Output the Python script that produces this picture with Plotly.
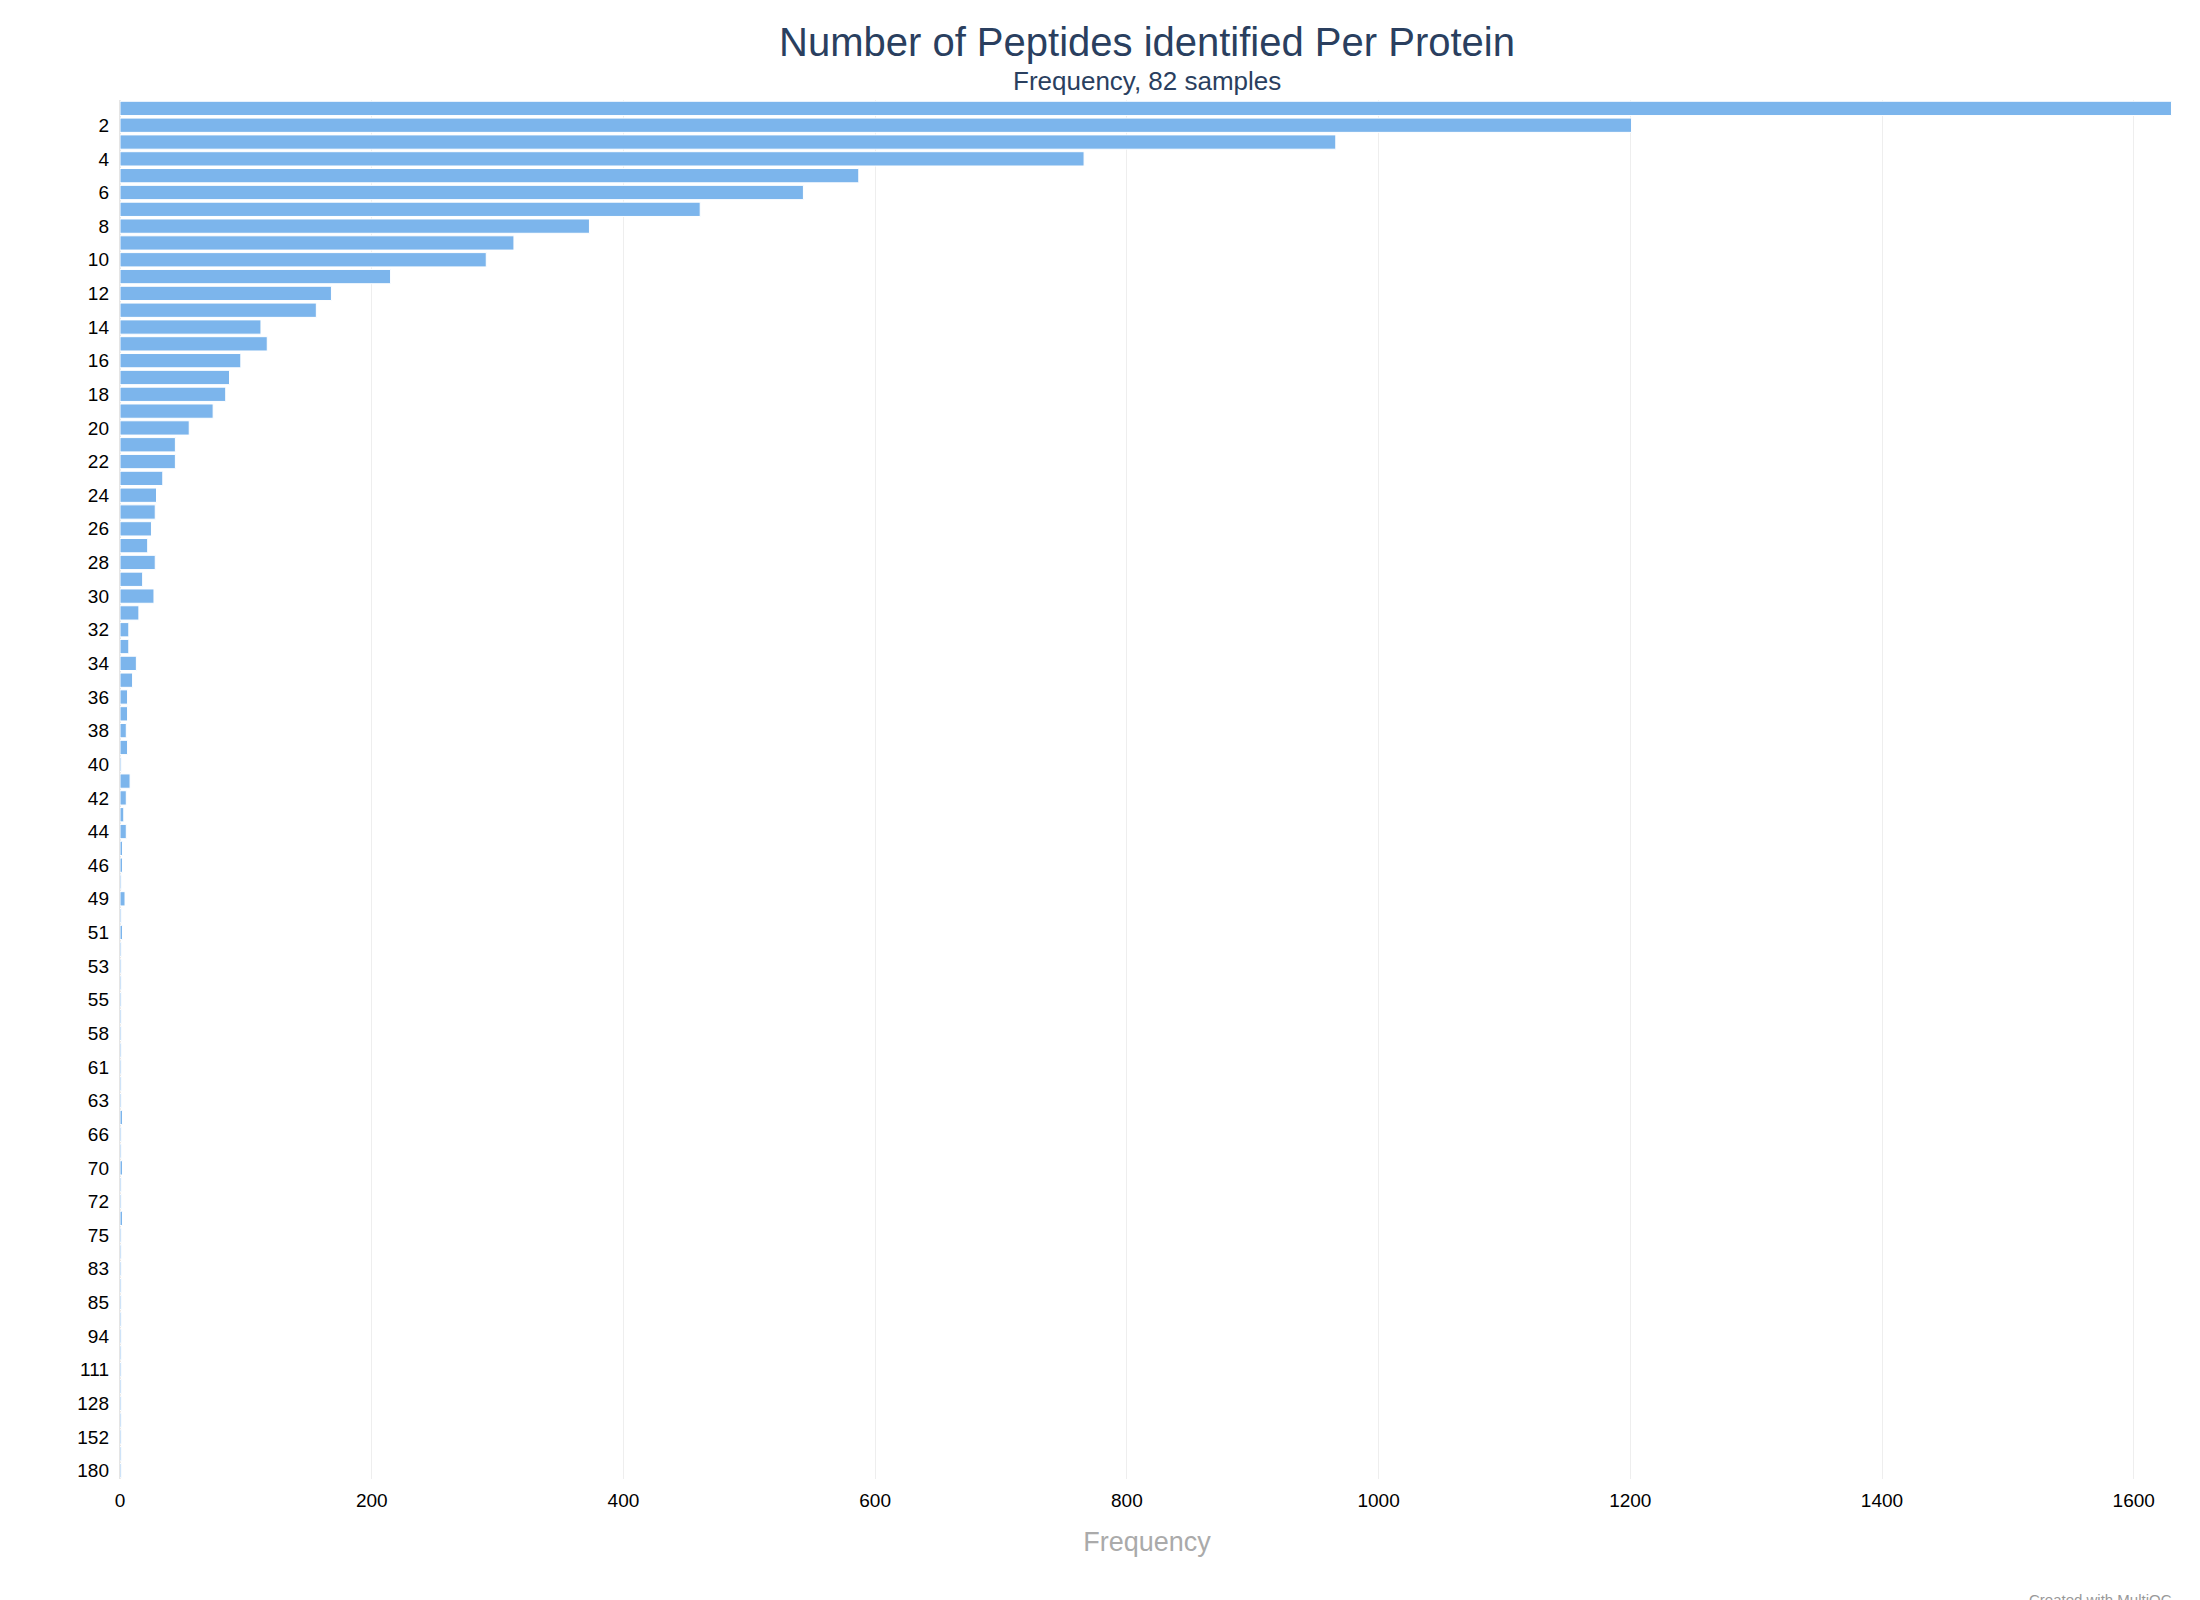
import plotly.graph_objects as go

categories = [str(i) for i in range(1, 47)] + ["47", "49", "50", "51", "52", "53", "54", "55", "57", "58", "60", "61", "62", "63", "65", "66", "68", "70", "71", "72", "73", "75", "80", "83", "84", "85", "88", "94", "100", "111", "115", "128", "140", "152", "160", "180"]
values = [1630, 1201, 966, 766, 587, 543, 461, 373, 313, 291, 215, 168, 156, 112, 117, 96, 87, 84, 74, 55,
          44, 44, 34, 29, 28, 25, 22, 28, 18, 27, 15, 7, 7, 13, 10, 6, 6, 5, 6, 1,
          8, 5, 3, 5, 2, 2,
          1, 4, 1, 2, 1, 1, 1, 1, 1, 1, 1, 1, 1, 1, 2, 1, 1, 2, 1, 1, 2, 1, 1, 1, 1, 1, 1, 1, 1, 1, 1, 1, 1, 1, 1, 1]

fig = go.Figure(go.Bar(
    x=values, y=categories, orientation="h",
    marker=dict(color="#7cb5ec", line=dict(color="white", width=1)),
))
fig.update_layout(
    width=2200, height=1600,
    paper_bgcolor="white", plot_bgcolor="white",
    margin=dict(l=112, r=34, t=92, b=129),
    bargap=0.15,
    showlegend=False,
    font=dict(family="Liberation Sans, Arial", size=19, color="black"),
)
fig.add_annotation(text="Number of Peptides identified Per Protein", xref="paper", yref="paper",
                   x=0.5, y=1, yshift=82, xanchor="center", yanchor="top", showarrow=False,
                   font=dict(family="Liberation Sans, Arial", size=40, color="#2a3f5f"))
fig.add_annotation(text="Frequency, 82 samples", xref="paper", yref="paper",
                   x=0.5, y=1, yshift=36, xanchor="center", yanchor="top", showarrow=False,
                   font=dict(family="Liberation Sans, Arial", size=26, color="#2a3f5f"))
fig.update_xaxes(
    title=dict(text="Frequency", font=dict(size=27, color="#aaaaaa"), standoff=22),
    range=[0, 1632], showgrid=True, gridcolor="#eeeeee", zeroline=True, zerolinecolor="#e5e5e5",
    tickvals=[0, 200, 400, 600, 800, 1000, 1200, 1400, 1600], tickfont=dict(size=19),
    ticklabelstandoff=8,
)
fig.update_yaxes(
    type="category", categoryorder="array", categoryarray=categories,
    autorange="reversed", showgrid=False, ticks="", dtick=2, tick0=1,
    tickfont=dict(size=19), ticklabelstandoff=10,
)
fig.add_annotation(text="Created with MultiQC", xref="paper", yref="paper", x=1.0, y=0, yshift=-110,
                   xanchor="right", yanchor="top", showarrow=False, font=dict(size=15, color="#999999"))
fig.write_html("out.html")
